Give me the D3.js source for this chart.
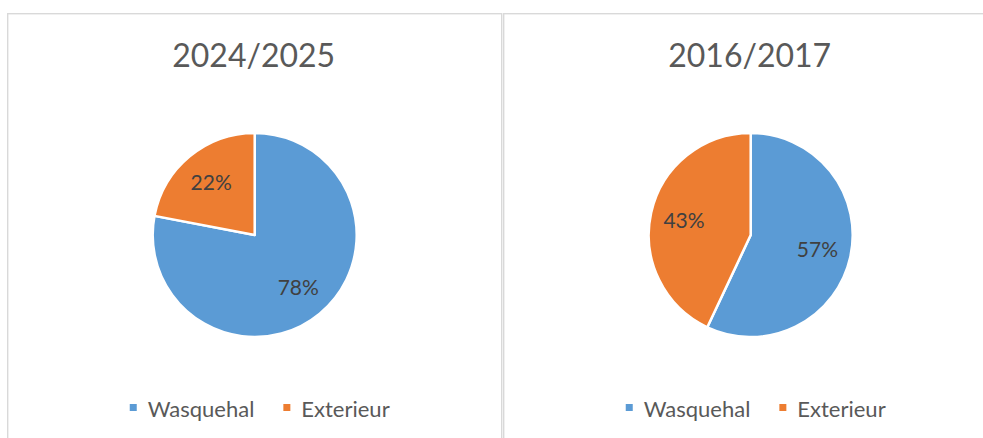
<!DOCTYPE html>
<html>
<head>
<meta charset="utf-8">
<script src="https://cdn.jsdelivr.net/npm/d3@7"></script>
<style>
  body { margin: 0; background: #fff; }
  svg { display: block; font-family: Lato, "Open Sans", sans-serif; }
</style>
</head>
<body>
<svg id="chart" width="983" height="438"></svg>
<script>
// data
const seasons = ["2024/2025", "2016/2017"];
const categories = ["Wasquehal", "Exterieur"];
const values2024 = [78, 22];
const values2016 = [57, 43];
const colors = ["#5B9BD5", "#ED7D31"];

const panelsData = [
  { title: seasons[0], values: values2024 },
  { title: seasons[1], values: values2016 }
];

const svg = d3.select("#chart");
const panelW = 494, panelTop = 13.7, panelLeft = 7.7, panelGap = 2;
const radius = 102;

const color = d3.scaleOrdinal().domain(categories).range(colors);
const pie = d3.pie().sort(null).value(d => d.value);
const arc = d3.arc().innerRadius(0).outerRadius(radius);
const labelArc = d3.arc().innerRadius(radius * 0.67).outerRadius(radius * 0.67);

panelsData.forEach((p, i) => {
  const x0 = panelLeft + i * (panelW + panelGap);
  const cx = x0 + panelW / 2;
  const cy = 235;

  // chart frame
  svg.append("rect")
    .attr("x", x0).attr("y", panelTop)
    .attr("width", panelW).attr("height", 500)
    .attr("fill", "none")
    .attr("stroke", "#d9d9d9")
    .attr("stroke-width", 1.4);

  svg.append("text")
    .attr("x", cx - 1).attr("y", 67)
    .attr("text-anchor", "middle")
    .attr("font-size", 32)
    .attr("fill", "#595959")
    .text(p.title);

  const g = svg.append("g").attr("transform", `translate(${cx},${cy})`);
  const slices = pie(categories.map((c, k) => ({ cat: c, value: p.values[k] })));

  g.selectAll("path.slice")
    .data(slices)
    .enter()
    .append("path")
    .attr("class", "slice")
    .attr("d", arc)
    .attr("fill", d => color(d.data.cat))
    .attr("stroke", "#fff")
    .attr("stroke-width", 2.5)
    .attr("stroke-linejoin", "round");

  const total = d3.sum(p.values);
  g.selectAll("text.lbl")
    .data(slices)
    .enter()
    .append("text")
    .attr("class", "lbl")
    .attr("transform", d => `translate(${labelArc.centroid(d)})`)
    .attr("text-anchor", "middle")
    .attr("dy", "0.36em")
    .attr("font-size", 21)
    .attr("fill", "#404040")
    .text(d => Math.round(d.data.value / total * 100) + "%");

  // legend
  const leg = svg.append("g");
  let x = 0;
  categories.forEach((c, k) => {
    leg.append("rect")
      .attr("x", x).attr("y", 404)
      .attr("width", 7).attr("height", 7)
      .attr("fill", color(c));
    const t = leg.append("text")
      .attr("x", x + 18).attr("y", 416.5)
      .attr("font-size", 22)
      .attr("fill", "#595959")
      .text(c);
    x += 18 + t.node().getComputedTextLength() + 29;
  });
  const legW = x - 29;
  leg.attr("transform", `translate(${cx + 5 - legW / 2},0)`);
});
</script>
</body>
</html>
